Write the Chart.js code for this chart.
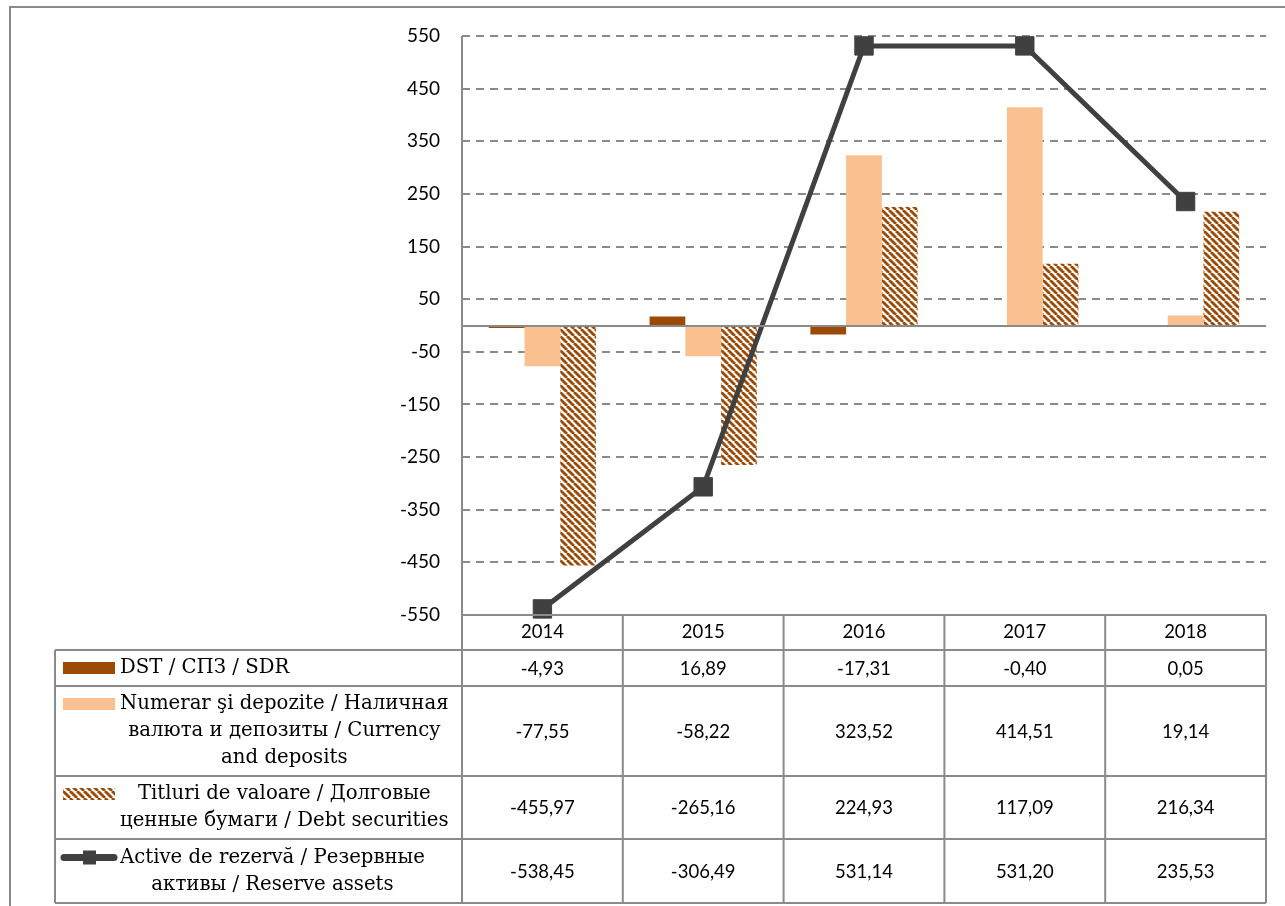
<!DOCTYPE html>
<html>
<head>
<meta charset="utf-8">
<script src="https://cdn.jsdelivr.net/npm/chart.js@4.4.1/dist/chart.umd.min.js"></script>
<style>
  html, body { margin: 0; padding: 0; background: #fff; overflow: hidden; }
  #wrap { position: relative; width: 1285px; height: 906px; }
  canvas { display: block; }
</style>
</head>
<body>
<div id="wrap"><canvas id="c" width="1285" height="906"></canvas></div>
<script>
// Reserve assets flows by component, 2014–2018
const years = ['2014', '2015', '2016', '2017', '2018'];
const sdr = [-4.93, 16.89, -17.31, -0.40, 0.05];
const currencyDeposits = [-77.55, -58.22, 323.52, 414.51, 19.14];
const debtSecurities = [-455.97, -265.16, 224.93, 117.09, 216.34];
const reserveAssets = [-538.45, -306.49, 531.14, 531.20, 235.53];
const yTicks = [-550, -450, -350, -250, -150, -50, 50, 150, 250, 350, 450, 550];
const seriesLabels = [
  ['DST / СПЗ / SDR'],
  ['Numerar şi depozite / Наличная', 'валюта и депозиты / Currency', 'and deposits'],
  ['Titluri de valoare / Долговые', 'ценные бумаги / Debt securities'],
  ['Active de rezervă / Резервные', 'активы / Reserve assets']
];

const GRID = '#8a8a8a';
const BROWN = '#9c4a06';
const PEACH = '#fac08f';
const DARK = '#404040';
const NUM_FONT = '18.5px Lato';
const LABEL_FONT = '19.7px "DejaVu Serif"';

// diagonal "\" hatch used for debt securities
function makeHatch(color) {
  const s = 7;
  const tile = document.createElement('canvas');
  tile.width = s; tile.height = s;
  const g = tile.getContext('2d');
  g.fillStyle = '#fff';
  g.fillRect(0, 0, s, s);
  g.strokeStyle = color;
  g.lineWidth = 2.8;
  for (let k = -1; k <= 1; k++) {
    g.beginPath();
    g.moveTo(k * s, 0);
    g.lineTo(k * s + s, s);
    g.stroke();
  }
  return g.createPattern(tile, 'repeat');
}
const hatch = makeHatch(BROWN);

const fmt = v => v.toFixed(2).replace('.', ',');

// table rows below the plot: header row then one row per series
const rowHeights = [35, 36, 90, 63, 64];
const tableLeft = 55;
const lineGap = 27;

const tablePlugin = {
  id: 'dataTable',
  afterDatasetsDraw(chart) {
    const { ctx, chartArea, scales: { y } } = chart;
    const y0 = Math.round(y.getPixelForValue(0));
    ctx.save();
    ctx.strokeStyle = GRID;
    ctx.lineWidth = 2;
    ctx.beginPath();
    ctx.moveTo(chartArea.left, y0);
    ctx.lineTo(chartArea.right, y0);
    ctx.stroke();
    ctx.restore();
  },
  afterDraw(chart) {
    const { ctx, chartArea, scales: { x } } = chart;
    const L = chartArea.left, R = chartArea.right;
    const n = chart.data.labels.length;
    const cw = (R - L) / n;

    ctx.save();
    ctx.strokeStyle = GRID;
    ctx.lineWidth = 2;

    // outer frame (top and left)
    ctx.beginPath();
    ctx.moveTo(10, 906);
    ctx.lineTo(10, 7);
    ctx.lineTo(1285, 7);
    ctx.stroke();

    // row boundaries
    const rows = [chartArea.bottom];
    rowHeights.forEach(h => rows.push(rows[rows.length - 1] + h));
    const bottom = rows[rows.length - 1];

    ctx.beginPath();
    ctx.moveTo(L, rows[0]); ctx.lineTo(R, rows[0]);
    for (let i = 1; i < rows.length; i++) {
      ctx.moveTo(tableLeft, rows[i]); ctx.lineTo(R, rows[i]);
    }
    // value axis line continuing into table
    ctx.moveTo(L, chartArea.top); ctx.lineTo(L, bottom);
    ctx.moveTo(tableLeft, rows[1]); ctx.lineTo(tableLeft, bottom);
    for (let i = 1; i <= n; i++) {
      ctx.moveTo(L + i * cw, rows[0]); ctx.lineTo(L + i * cw, bottom);
    }
    ctx.stroke();

    // years and values
    ctx.fillStyle = '#000';
    ctx.font = NUM_FONT;
    ctx.textAlign = 'center';
    ctx.textBaseline = 'middle';
    chart.data.labels.forEach((lab, i) => {
      ctx.fillText(lab, x.getPixelForValue(i), (rows[0] + rows[1]) / 2);
    });
    const seriesData = [sdr, currencyDeposits, debtSecurities, reserveAssets];
    seriesData.forEach((arr, r) => {
      const cy = (rows[r + 1] + rows[r + 2]) / 2;
      arr.forEach((v, i) => ctx.fillText(fmt(v), x.getPixelForValue(i), cy + 1));
    });

    // series names with keys
    ctx.font = LABEL_FONT;
    seriesLabels.forEach((lines, r) => {
      const cy = (rows[r + 1] + rows[r + 2]) / 2;
      const firstY = cy - (lines.length - 1) * lineGap / 2;
      const blockW = Math.max(...lines.map(t => ctx.measureText(t).width));
      const cx = 120 + blockW / 2;
      lines.forEach((t, k) => ctx.fillText(t, cx, firstY + k * lineGap));

      const ds = chart.data.datasets[r];
      if (r < 3) {
        ctx.fillStyle = ds.backgroundColor;
        ctx.fillRect(63, firstY - 6, 52, 12);
        ctx.fillStyle = '#000';
      } else {
        ctx.strokeStyle = ds.borderColor;
        ctx.lineWidth = 7;
        ctx.lineCap = 'round';
        ctx.beginPath();
        ctx.moveTo(64, firstY); ctx.lineTo(114, firstY);
        ctx.stroke();
        ctx.fillStyle = ds.pointBackgroundColor;
        ctx.fillRect(83, firstY - 7, 13, 14);
        ctx.fillStyle = '#000';
      }
    });
    ctx.restore();
  }
};

new Chart(document.getElementById('c'), {
  data: {
    labels: years,
    datasets: [
      { type: 'bar', label: seriesLabels[0].join(' '), data: sdr, backgroundColor: BROWN, order: 1 },
      { type: 'bar', label: seriesLabels[1].join(' '), data: currencyDeposits, backgroundColor: PEACH, order: 1 },
      { type: 'bar', label: seriesLabels[2].join(' '), data: debtSecurities, backgroundColor: hatch, order: 1 },
      {
        type: 'line', label: seriesLabels[3].join(' '), data: reserveAssets,
        borderColor: DARK, borderWidth: 5, tension: 0,
        pointStyle: 'rect', pointRadius: 13, pointHoverRadius: 13,
        pointBackgroundColor: DARK, pointBorderColor: DARK, pointBorderWidth: 1,
        clip: false, order: 0
      }
    ]
  },
  options: {
    responsive: false,
    animation: false,
    devicePixelRatio: 1,
    layout: { padding: { top: 36, right: 19, bottom: 291, left: 0 } },
    datasets: { bar: { categoryPercentage: 0.667, barPercentage: 1, borderWidth: 0 } },
    plugins: { legend: { display: false }, tooltip: { enabled: false } },
    scales: {
      x: { display: false },
      y: {
        min: -550, max: 550,
        afterBuildTicks: s => { s.ticks = yTicks.map(v => ({ value: v })); },
        afterFit: s => { s.width = 462; },
        grid: { color: GRID, lineWidth: 2, drawTicks: false },
        border: { display: false, dash: [8, 6] },
        ticks: { color: '#000', font: { family: 'Lato', size: 19 }, padding: 22 }
      }
    }
  },
  plugins: [tablePlugin]
});
</script>
</body>
</html>
